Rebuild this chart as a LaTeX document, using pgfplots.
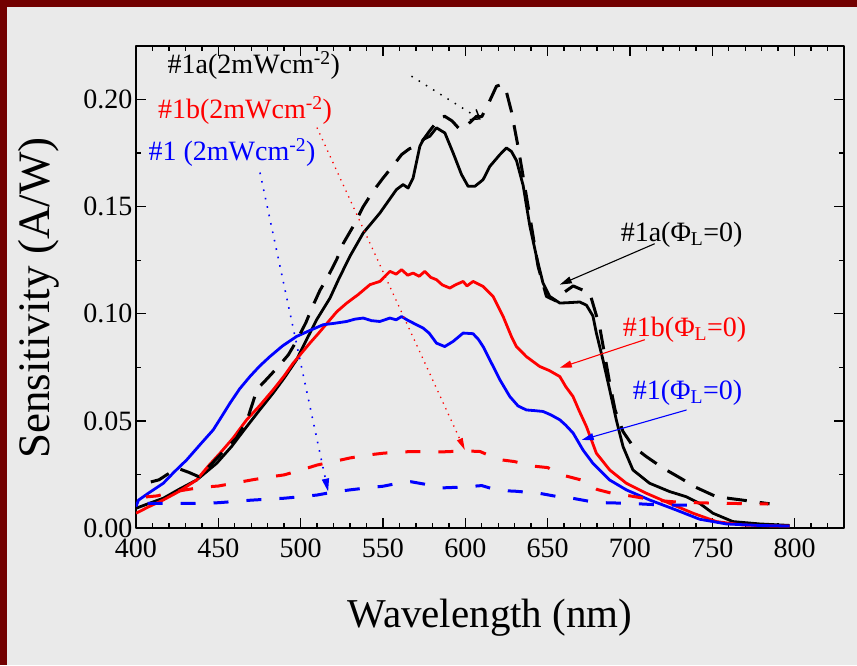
\documentclass[border=0pt]{standalone}
\usepackage{fontspec}
\setmainfont{Liberation Serif}
\usepackage{pgfplots}
\pgfplotsset{compat=1.18}
\usetikzlibrary{arrows.meta}

\definecolor{frame}{HTML}{730000}
\definecolor{panel}{HTML}{EAEAEA}
\definecolor{cred}{HTML}{FF0000}
\definecolor{cblue}{HTML}{0000FF}
\newcommand{\lbl}{\fontsize{28}{32}\selectfont}

\begin{document}
\begin{tikzpicture}[x=1pt,y=1pt]
\fill[frame] (0pt,0pt) rectangle (857pt,665pt);
\fill[panel] (7pt,0pt) rectangle (857pt,658pt);
\begin{axis}[
  at={(136pt,137pt)}, anchor=south west,
  scale only axis, width=708pt, height=482pt,
  xmin=400, xmax=830, ymin=0, ymax=0.225,
  xtick={400,450,...,800},
  minor xtick={410,420,...,820},
  ytick={0,0.05,0.10,0.15,0.20},
  minor ytick={0.025,0.075,0.125,0.175},
  tick pos=both, tick align=inside,
  major tick length=10pt, minor tick length=5pt,
  every tick/.style={black, line width=1.4pt},
  axis line style={line width=1.8pt},
  tick label style={font=\lbl},
  /pgf/number format/assume math mode=true,
  yticklabel style={/pgf/number format/.cd, fixed, fixed zerofill, precision=2},
  xticklabel style={yshift=-7pt},
  xlabel={Wavelength (nm)},
  ylabel={Sensitivity (A/W)},
  xlabel style={font=\fontsize{41}{45}\selectfont, at={(axis description cs:0.5,-0.186)}, anchor=center},
  ylabel style={font=\fontsize{45}{49}\selectfont, at={(axis description cs:-0.138,0.477)}, anchor=center},
  line join=round,
]
% #1a, Phi_L = 0
\addplot[black, line width=2.8pt] coordinates {
(400,0.0092)(408,0.0115)(416.6,0.0139)(426,0.018)(436.8,0.0224)(449,0.0302)(458,0.038)
(467.2,0.0473)(475,0.055)(483.3,0.063)(490,0.070)(497.5,0.0785)(503,0.087)(509.7,0.0972)
(517.8,0.1073)(523,0.116)(529.9,0.1268)(538,0.1377)(548.1,0.147)(558.2,0.158)(562.2,0.1603)
(565.3,0.1587)(568.3,0.1634)(572.4,0.1782)(574.4,0.1813)(578.5,0.1829)(582.5,0.1868)
(587.6,0.1844)(592.6,0.1751)(597.7,0.165)(601.7,0.1595)(605.8,0.1595)(610.8,0.1626)
(614.9,0.1688)(621,0.1743)(625,0.1774)(628,0.1758)(631.1,0.1715)(635.1,0.1600)(639.2,0.141)
(643.2,0.1268)(647.2,0.1143)(651.3,0.1081)(657.4,0.1050)(663,0.1052)(669.5,0.1055)
(673.6,0.1040)(677.5,0.0990)(679.6,0.091)(683.6,0.0785)(687.7,0.0645)(691.7,0.0505)
(695.8,0.038)(701.8,0.0271)(711.9,0.0209)(724.1,0.017)(734.2,0.0146)(742.3,0.0115)
(750.4,0.0069)(762.5,0.003)(778.8,0.0019)(797,0.0012)};
% #1b, Phi_L = 0
\addplot[cred, line width=2.8pt] coordinates {
(400,0.0069)(408,0.010)(416.6,0.0131)(426,0.017)(436.8,0.0224)(444,0.029)(451,0.0349)
(459,0.042)(467.2,0.0505)(475,0.057)(483.3,0.0645)(490,0.071)(495.5,0.077)(505.6,0.0863)
(511,0.091)(517.8,0.0972)(522,0.101)(528,0.105)(535,0.109)(542.1,0.1136)(548.1,0.1151)
(554.2,0.1198)(558,0.1185)(561.3,0.1206)(565,0.118)(568.3,0.119)(572,0.1175)(575.4,0.1198)
(579,0.117)(582.5,0.1159)(586,0.1135)(590.6,0.112)(594,0.1135)(598.7,0.1151)(601,0.113)
(604.7,0.1151)(610.8,0.1128)(616.9,0.1081)(623,0.0987)(628,0.0894)(631,0.0847)(637.1,0.080)
(645.2,0.0754)(651,0.0735)(657.4,0.0707)(661,0.066)(665.4,0.0614)(669,0.055)(673.6,0.0473)
(679.6,0.0349)(687.7,0.0271)(697.8,0.0209)(710,0.0162)(724.1,0.0115)(738.3,0.0069)
(752.5,0.003)(768.6,0.0014)(785,0.001)(797,0.0009)};
% #1, Phi_L = 0
\addplot[cblue, line width=2.8pt] coordinates {
(400,0.010)(401.5,0.013)(408,0.0165)(416.6,0.0209)(423,0.026)(430.8,0.0318)(439,0.039)
(446.9,0.0458)(452,0.052)(457.1,0.0583)(463,0.065)(469.2,0.0707)(475,0.0755)(481.3,0.080)
(489,0.085)(497.5,0.0894)(505,0.092)(513.7,0.0949)(520,0.0955)(527.9,0.0964)(533,0.0975)
(538,0.098)(543,0.0968)(548.1,0.0964)(554.2,0.098)(558,0.0972)(561.3,0.0987)(565,0.097)
(568.3,0.0957)(574.4,0.0933)(578,0.0910)(582.5,0.0863)(587.5,0.0847)(592.6,0.0871)
(598.7,0.091)(604.7,0.0907)(608,0.088)(610.8,0.0847)(614.9,0.0785)(621,0.0692)(627,0.0614)
(632,0.057)(637.1,0.0551)(642,0.0548)(647.2,0.0544)(652,0.0528)(657.4,0.0505)(661,0.048)
(665.5,0.0443)(671.5,0.0364)(677.5,0.0302)(687.7,0.0224)(697.8,0.0178)(711.9,0.0131)
(728.1,0.0084)(742.3,0.0041)(758.5,0.0019)(778,0.0012)(797,0.0009)};
% #1a, 2 mW/cm2
\addplot[black, line width=3pt, dash pattern=on 20pt off 13pt] coordinates {
(409,0.0215)(414,0.0225)(420,0.0255)(426,0.0277)(432,0.026)(438,0.024)(446,0.030)(455,0.0372)
(461,0.042)(467.2,0.0497)(473.6,0.0648)(480,0.070)(486,0.075)(492.5,0.0808)(498,0.088)
(503.2,0.0959)(507,0.103)(511.7,0.1109)(517,0.118)(521.8,0.1252)(526,0.133)(531.9,0.1408)
(538,0.150)(544,0.1572)(550.1,0.1634)(556,0.169)(561.3,0.1743)(566,0.177)(572.4,0.179)
(578,0.185)(584.5,0.1914)(587.5,0.1922)(592,0.190)(596.7,0.186)(601,0.188)(606.8,0.1922)
(610,0.192)(614,0.198)(618.9,0.2062)(621.9,0.207)(624,0.2065)(628,0.1945)(632,0.1782)
(635.1,0.1642)(641.2,0.1361)(644.2,0.1221)(649.3,0.1081)(655,0.106)(660,0.110)(665.5,0.113)
(670,0.1115)(675.6,0.1097)(681.6,0.094)(687.7,0.0676)(691,0.055)(695.8,0.045)(702,0.038)
(710,0.0333)(720,0.028)(730.2,0.0235)(740,0.019)(752.5,0.0146)(768.6,0.013)(784.8,0.0113)};
% #1, 2 mW/cm2
\addplot[cblue, line width=3pt, dash pattern=on 15pt off 18pt] coordinates {
(407,0.0115)(420,0.0115)(435,0.0115)(450,0.0118)(460,0.0124)(470,0.013)(490,0.0139)
(500,0.0146)(510,0.0154)(520,0.0168)(530,0.0178)(540,0.0187)(550,0.0195)(560,0.021)
(567,0.0216)(575,0.0205)(585,0.0187)(595,0.019)(605,0.0195)(610,0.0198)(620,0.0175)
(630,0.0172)(645,0.0162)(655,0.0148)(665,0.0139)(675,0.0125)(685,0.0118)(700,0.0115)
(720,0.0107)(740,0.0107)};
% #1b, 2 mW/cm2
\addplot[cred, line width=3pt, dash pattern=on 15pt off 18pt] coordinates {
(406,0.0145)(413,0.0150)(420,0.0165)(430,0.0178)(440,0.019)(450,0.0196)(460,0.021)
(470,0.0224)(480,0.0237)(490,0.0248)(500,0.027)(510,0.0294)(520,0.031)(530,0.0327)
(540,0.034)(550,0.0349)(560,0.0355)(570,0.0357)(585,0.0355)(600,0.036)(609,0.0357)
(620,0.032)(630,0.031)(640,0.029)(650,0.0282)(660,0.0245)(670,0.0225)(680,0.018)
(690,0.016)(700,0.015)(715,0.013)(730,0.012)(745,0.0117)(760,0.0115)(784,0.0112)};

% annotations
\node[font=\lbl, text=black] at (axis cs:471.6,0.2159) {\#1a(2mWcm\textsuperscript{-2})};
\node[font=\lbl, text=cred] at (axis cs:466.2,0.1949) {\#1b(2mWcm\textsuperscript{-2})};
\node[font=\lbl, text=cblue] at (axis cs:458.3,0.1752) {\#1 (2mWcm\textsuperscript{-2})};
\draw[black, line width=1.5pt, dash pattern=on 1.5pt off 7pt, -{Straight Barb[length=8pt,width=12pt,line width=1.5pt]}]
  (axis cs:567.3,0.2109) -- (axis cs:609.4,0.1907);
\draw[cred, line width=1.3pt, dash pattern=on 1.3pt off 5pt, -{Triangle[length=12pt,width=6pt]}]
  (axis cs:509.9,0.1869) -- (axis cs:599.7,0.0364);
\draw[cblue, line width=1.6pt, dash pattern=on 1.6pt off 7pt, -{Triangle[length=13pt,width=7pt]}]
  (axis cs:475.3,0.1659) -- (axis cs:516.7,0.017);

\node[font=\lbl, text=black] at (axis cs:731.4,0.1369) {\#1a(Φ\textsubscript{L}=0)};
\node[font=\lbl, text=cred] at (axis cs:733.2,0.0925) {\#1b(Φ\textsubscript{L}=0)};
\node[font=\lbl, text=cblue] at (axis cs:735,0.0631) {\#1(Φ\textsubscript{L}=0)};
\draw[black, line width=1.1pt, -{Triangle[length=12pt,width=7pt]}]
  (axis cs:715,0.1327) -- (axis cs:657.4,0.1136);
\draw[cred, line width=1.1pt, -{Triangle[length=12pt,width=7pt]}]
  (axis cs:709,0.0879) -- (axis cs:657.4,0.0748);
\draw[cblue, line width=1.1pt, -{Triangle[length=12pt,width=7pt]}]
  (axis cs:734.4,0.0551) -- (axis cs:670.7,0.0411);
\end{axis}
\pgfresetboundingbox
\path[use as bounding box] (0pt,0pt) rectangle (857pt,665pt);
\end{tikzpicture}
\end{document}
